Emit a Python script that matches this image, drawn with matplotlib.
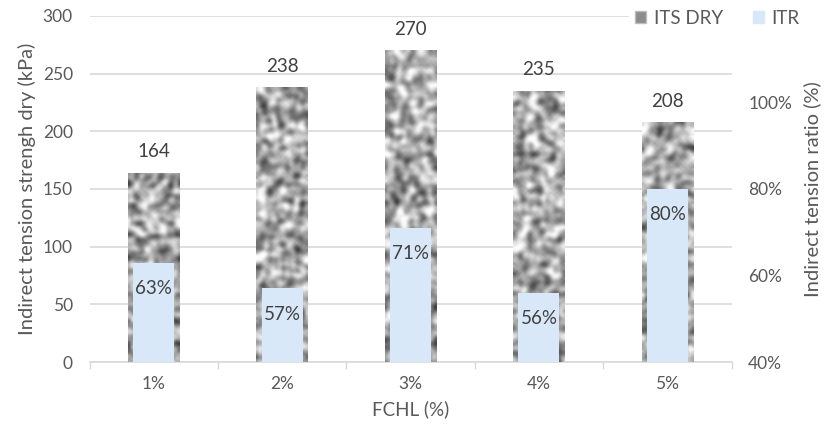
import numpy as np
import matplotlib
matplotlib.use("Agg")
import matplotlib.pyplot as plt
from matplotlib.patches import Patch

plt.rcParams['font.family'] = ['Lato', 'DejaVu Sans']

categories = ["1%", "2%", "3%", "4%", "5%"]
its_dry = [164, 238, 270, 235, 208]          # kPa
itr = [63, 57, 71, 56, 80]                   # %
left_ticks = [0, 50, 100, 150, 200, 250, 300]
right_ticks = [40, 60, 80, 100]

TEXT = "#595959"
LABEL = "#404040"
GRID = "#d9d9d9"
ITR_COLOR = "#d9e8f8"

fig = plt.figure(figsize=(8.37, 4.41), dpi=100)
ax = fig.add_axes([0.107, 0.179, 0.767, 0.785])
ax2 = ax.twinx()

x = np.arange(len(categories))
w_its = 0.40
w_itr = 0.32

# ITS DRY bars with a speckled grey stone texture
bars = ax.bar(x, its_dry, width=w_its, color="#a8a8a8", zorder=2)
rng = np.random.default_rng(11)


def smooth(a, n=2):
    for _ in range(n):
        a = (a + np.roll(a, 1, 0) + np.roll(a, -1, 0) + np.roll(a, 1, 1) + np.roll(a, -1, 1)) / 5
    return a


for b in bars:
    h_px = int(b.get_height() * 1.16 / 2.4) + 2
    tex = smooth(rng.random((h_px, 22)), 2)
    tex = (tex - tex.mean()) / tex.std()
    im = ax.imshow(tex, cmap="gray", vmin=-4.0, vmax=2.0, aspect="auto",
                   extent=(b.get_x(), b.get_x() + b.get_width(), 0, b.get_height()),
                   interpolation="bicubic", zorder=3)
    im.set_clip_path(b)

for xi, v in zip(x, its_dry):
    ax.annotate(f"{v}", (xi, v), xytext=(0, 21), textcoords="offset pixels",
                ha="center", va="center", fontsize=13.5, color=LABEL)

ax.set_xlim(-0.5, len(categories) - 0.5)
ax.set_ylim(0, 300)
ax.set_yticks(left_ticks)
ax.set_xticks(x)
ax.set_xticklabels(categories)
ax.set_xticks(np.arange(-0.5, len(categories)), minor=True)
ax.tick_params(axis="x", which="major", length=0, pad=10, colors=TEXT, labelsize=12.5)
ax.tick_params(axis="x", which="minor", length=5, color=GRID, width=1)
ax.tick_params(axis="y", length=0, pad=12, colors=TEXT, labelsize=12.5)
ax.grid(axis="y", color=GRID, linewidth=1.2, zorder=0)
ax.set_axisbelow(True)
for s in ["top", "right", "left"]:
    ax.spines[s].set_visible(False)
ax.spines["bottom"].set_color(GRID)
ax.spines["bottom"].set_linewidth(1.2)
ax.set_xlabel("FCHL (%)", fontsize=13.5, color=TEXT, labelpad=6)
ax.set_ylabel("Indirect tension strengh dry (kPa)", fontsize=14.5, color=TEXT, labelpad=5)

# ITR bars on the secondary axis
ax2.bar(x, itr, width=w_itr, color=ITR_COLOR, zorder=2)
for xi, v in zip(x, itr):
    ax2.annotate(f"{v}%", (xi, v), xytext=(0, -26), textcoords="offset pixels",
                 ha="center", va="center", fontsize=13.5, color=LABEL)
ax2.set_ylim(40, 120)
ax2.set_yticks(right_ticks)
ax2.set_yticklabels([f"{t}%" for t in right_ticks])
ax2.tick_params(axis="y", length=0, pad=12, colors=TEXT, labelsize=12.5)
for s in ax2.spines.values():
    s.set_visible(False)
ax2.set_ylabel("Indirect tension ratio (%)", fontsize=14.5, color=TEXT, labelpad=8)

handles = [Patch(facecolor="#8c8c8c", edgecolor="#bdbdbd"),
           Patch(facecolor=ITR_COLOR, edgecolor=ITR_COLOR)]
fig.legend(handles, ["ITS DRY", "ITR"], loc="center", bbox_to_anchor=(0.857, 0.958),
           ncol=2, frameon=True, facecolor="white", edgecolor="white", framealpha=1,
           fontsize=13.5, labelcolor=TEXT, handlelength=0.6, handleheight=0.6,
           handletextpad=0.4, columnspacing=1.6, borderpad=0.3)

fig.savefig("out.png", dpi=100)
